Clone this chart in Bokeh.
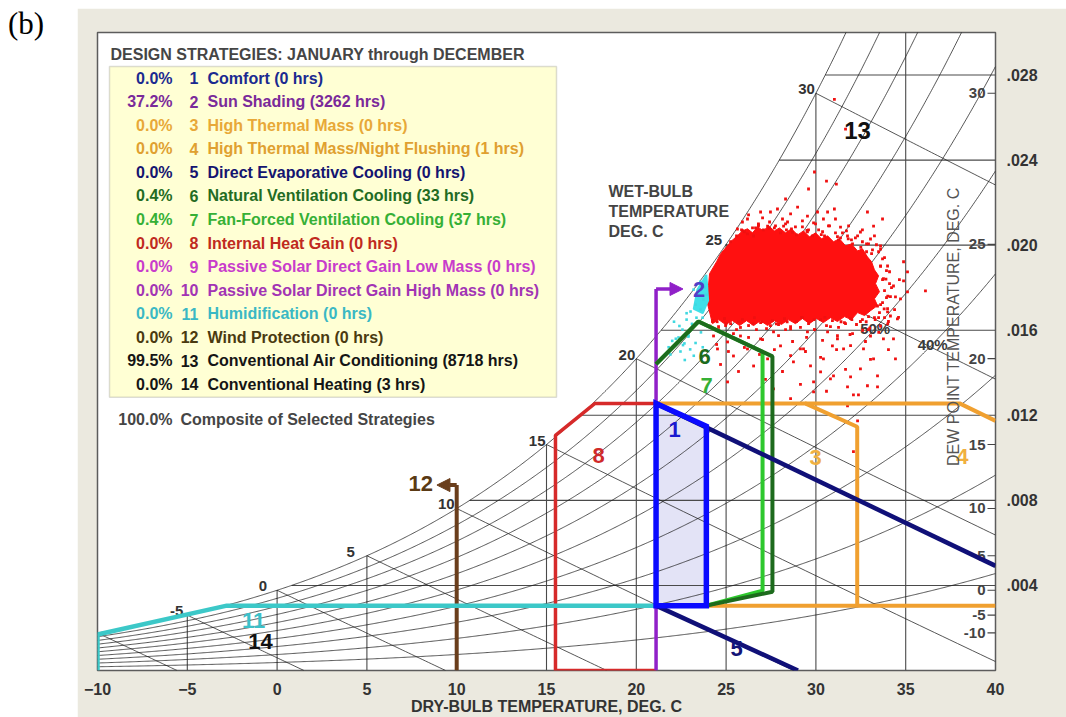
import numpy as np
from bokeh.plotting import figure
from bokeh.models import (Range1d, FixedTicker, Label, Arrow, NormalHead,
                          BoxAnnotation, Div, Spacer, ColumnDataSource)
from bokeh.layouts import row, column
from bokeh.embed import file_html
from bokeh.resources import INLINE
from bokeh.core.properties import value

FONT = "Liberation Sans"
P_ATM = 101.325  # kPa, sea level

# ---------------- chart scales ----------------
T_LO, T_HI = -10.0, 40.0          # dry-bulb, deg C
W_LO, W_HI = 0.0, 0.030           # humidity ratio, kg/kg
db_ticks = [-10, -5, 0, 5, 10, 15, 20, 25, 30, 35, 40]
w_ticks = [0.004, 0.008, 0.012, 0.016, 0.020, 0.024, 0.028]
w_tick_text = [".004", ".008", ".012", ".016", ".020", ".024", ".028"]
dew_ticks = [-10, -5, 0, 5, 10, 15, 20, 25, 30]
wb_lines = [-10, -5, 0, 5, 10, 15, 20, 25, 30]
wb_label_values = [-5, 0, 5, 10, 15, 20, 25, 30]
wb_label_dx = [-4, -10, -12, -2, -1, -1, -4, -1]
rh_curves = [0.1, 0.2, 0.3, 0.4, 0.5, 0.6, 0.7, 0.8, 0.9, 1.0]
rh_label_rh = [0.5, 0.4]
rh_label_T = [33.3, 36.5]
rh_label_text = ["50%", "40%"]

# ---------------- design strategy summary ----------------
strategy_pct = [0.0, 37.2, 0.0, 0.0, 0.0, 0.4, 0.4, 0.0, 0.0, 0.0, 0.0, 0.0, 99.5, 0.0]
strategy_names = ["Comfort", "Sun Shading", "High Thermal Mass",
                  "High Thermal Mass/Night Flushing", "Direct Evaporative Cooling",
                  "Natural Ventilation Cooling", "Fan-Forced Ventilation Cooling",
                  "Internal Heat Gain", "Passive Solar Direct Gain Low Mass",
                  "Passive Solar Direct Gain High Mass", "Humidification",
                  "Wind Protection", "Conventional Air Conditioning",
                  "Conventional Heating"]
strategy_hours = [0, 3262, 0, 1, 0, 33, 37, 0, 0, 0, 0, 0, 8718, 3]
strategy_colors = ["#1a2a90", "#7a2a9a", "#e8a838", "#e0a030", "#141470",
                   "#236b23", "#36b036", "#c02a20", "#c83ccb", "#a234b4",
                   "#3ab8c4", "#4a3a10", "#151515", "#151515"]
composite_pct = 100.0

# ---------------- strategy zones (T deg C, W kg/kg) ----------------
comfort_T = [21.1, 23.9, 23.9, 21.1]
comfort_W = [0.01256, 0.01148, 0.00305, 0.00305]
sun_T = [21.1, 21.1]
sun_W = [0.0, 0.01794]
sun_arrow_T = 22.6
thermal_T = [21.1, 29.4, 32.3, 32.3, 23.9]
thermal_W = [0.01256, 0.01256, 0.01146, 0.00305, 0.00305]
flush_top_T = [29.4, 38.0, 40.0]
flush_top_W = [0.01256, 0.01256, 0.01174]
flush_bot_T = [32.3, 40.0]
flush_bot_W = [0.00305, 0.00305]
evap_up_T = [21.1, 40.0]
evap_up_W = [0.01256, 0.00492]
evap_lo_T = [21.1, 29.0]
evap_lo_W = [0.00305, 0.0]
natvent_T = [21.1, 23.46, 27.58, 27.58, 23.9]
natvent_W = [0.01441, 0.01641, 0.01477, 0.00370, 0.00305]
fan_T = [21.1, 23.46, 27.03, 27.03, 23.9]
fan_W = [0.01441, 0.01641, 0.01499, 0.00375, 0.00305]
internal_T = [21.1, 15.5, 15.5, 17.7, 21.1]
internal_W = [0.0, 0.0, 0.01106, 0.01256, 0.01256]
humid_T = [-10.0, -10.0, -2.8, 21.1]
humid_W = [0.0, 0.00169, 0.00305, 0.00305]
wind_T = [10.0, 10.0]
wind_W = [0.0, 0.00872]
wind_arrow_T = 8.9

zone_text = ["1", "2", "3", "4", "5", "6", "7", "8", "11", "12", "13", "14"]
zone_text_T = [22.13, 23.5, 29.98, 38.16, 25.58, 23.8, 23.91, 17.9, -1.31, 8.0, 32.32, -0.92]
zone_text_W = [0.01134, 0.01791, 0.01003, 0.01008, 0.00103, 0.01477, 0.01341, 0.01013,
               0.00234, 0.00877, 0.02541, 0.00136]
zone_text_color = ["#1a1ad0", "#5040c8", "#f0b040", "#f0b040", "#141478", "#1d6b1d",
                   "#36b036", "#d02a2a", "#3cc0c8", "#5a3a14", "#111111", "#111111"]

# ---------------- hourly climate points (T deg C, W g/kg) ----------------
# outline of the densest part of the hourly cloud
core_T = [23.91, 24.02, 24.08, 24.47, 24.69, 25.02, 25.30, 25.63, 25.91, 26.19, 26.47,
          26.75, 27.08, 27.36, 27.69, 27.97, 28.31, 28.64, 28.98, 29.31, 29.64, 29.98,
          30.31, 30.65, 30.98, 31.31, 31.65, 31.98, 32.32, 32.59, 32.87, 33.10, 33.26,
          33.49, 33.32, 33.54, 33.26, 33.43, 33.04, 32.71, 32.32, 31.98, 31.59, 31.20,
          30.81, 30.42, 30.03, 29.64, 29.25, 28.86, 28.47, 28.08, 27.69, 27.31, 26.92,
          26.53, 26.14, 25.75, 25.36, 24.97, 24.58, 24.24]
core_Wg = [17.44, 18.09, 18.66, 19.22, 19.59, 19.92, 20.20, 20.44, 20.67, 20.77, 20.58,
           20.86, 20.67, 20.91, 20.67, 20.81, 20.58, 20.77, 20.48, 20.67, 20.39, 20.58,
           20.30, 20.44, 20.16, 20.30, 19.97, 20.06, 19.73, 19.83, 19.45, 19.22, 18.84,
           18.56, 18.19, 17.81, 17.48, 17.16, 16.92, 16.69, 16.83, 16.50, 16.64, 16.41,
           16.59, 16.36, 16.55, 16.31, 16.55, 16.31, 16.50, 16.27, 16.45, 16.22, 16.45,
           16.22, 16.45, 16.22, 16.45, 16.27, 16.50, 16.31]
# scattered hours around the core
hour_T = [26.92, 27.86, 28.98, 29.53, 30.09, 30.42, 28.42, 27.31, 31.37, 31.76, 32.48,
          33.04, 33.60, 33.99, 34.32, 34.71, 35.10, 33.21, 31.03, 31.03, 29.92, 30.59,
          31.14, 29.59, 28.31, 31.65, 32.87, 33.71, 30.65, 25.63, 26.19, 26.53,
          36.10, 35.10, 34.88, 34.43, 34.15, 34.43, 33.43, 33.43, 31.93, 31.76, 32.37,
          32.09, 32.09, 30.42, 30.92, 29.31, 29.70, 28.75, 32.65, 33.04, 33.76, 34.32,
          33.60, 33.99, 33.43, 34.54, 30.26, 30.81, 32.48, 29.87, 32.32,
          24.30, 25.08, 25.41, 26.19, 26.92, 27.31, 28.03, 29.14, 30.98, 31.54, 32.87,
          33.21, 25.80, 27.64, 28.59, 29.53, 30.65, 24.52, 26.53, 25.08, 27.64, 28.59,
          29.87, 31.76,
          25.9, 26.8, 27.4, 28.2, 28.7, 29.5, 30.3, 31.2, 31.8, 32.5, 33.1, 33.6, 33.9,
          34.0, 33.8, 33.3, 32.8, 32.0, 31.4, 30.5, 29.9, 29.2, 28.4, 27.8, 27.0, 26.5,
          25.7, 25.0, 24.5, 24.1, 32.6, 33.0, 33.5, 34.0, 34.6, 31.9, 31.2,
          25.91, 26.25, 26.64, 27.03, 27.47, 27.75, 28.14, 28.59, 28.86, 29.25, 29.59,
          29.98, 30.37, 30.70, 31.09, 31.48, 31.82, 32.20, 32.59, 32.93, 33.26, 33.60,
          26.02, 26.80, 28.36, 29.81, 31.26, 32.04, 32.82,
          33.82, 34.10, 33.71, 34.21, 33.93, 33.60, 34.38, 33.49, 34.04, 34.65, 34.88,
          24.24, 24.58, 24.97, 25.41, 25.80, 26.25, 26.69, 27.03, 27.47, 27.92, 28.31,
          28.70, 29.14, 29.48, 29.92, 30.37, 30.81, 31.20, 31.65, 32.04, 32.48, 32.93,
          33.26, 24.47, 25.13, 26.02, 26.86, 27.69, 28.59, 29.42, 30.26, 31.15, 31.93,
          32.76, 24.69, 25.69, 27.19, 28.14, 29.14, 30.59, 31.65, 33.04, 34.04,
          25.25, 25.58, 25.86, 26.19, 26.47, 26.80, 27.08, 27.42, 27.69, 28.03, 28.31,
          28.64, 28.92, 29.25, 29.53, 29.87, 30.15, 30.48, 30.76, 31.09, 31.37, 31.70,
          31.98, 32.32, 32.59, 32.82, 33.15, 33.37,
          33.49, 33.71, 33.60, 33.93, 33.76, 34.10, 33.82, 34.15, 33.71, 33.99, 33.54,
          33.82,
          24.24, 24.58, 24.91, 25.25, 25.58, 25.91, 26.25, 26.58, 26.92, 27.25, 27.58,
          27.92, 28.25, 28.59, 28.92, 29.25, 29.59, 29.92, 30.26, 30.59, 30.92, 31.26,
          31.59, 31.93, 32.26, 32.59, 32.93]
hour_Wg = [21.56, 21.70, 21.79, 21.37, 21.56, 21.23, 21.09, 20.90, 20.85, 20.43, 20.62,
           20.29, 19.82, 19.02, 18.08, 17.47, 17.80, 20.90, 21.70, 26.86, 23.44, 23.01,
           22.87, 22.64, 22.17, 25.46, 21.56, 21.23, 21.56, 20.76, 21.23, 20.43,
           17.85, 18.74, 18.32, 17.57, 16.67, 14.65, 13.85, 13.34, 13.81, 13.34, 12.96,
           12.96, 10.29, 14.65, 15.26, 15.12, 14.32, 14.51, 15.12, 15.73, 15.59, 15.59,
           16.20, 16.86, 17.14, 16.53, 14.04, 13.71, 14.18, 13.57, 11.74,
           15.73, 15.45, 14.79, 15.12, 15.59, 14.65, 15.26, 15.12, 13.85, 15.12, 13.39,
           14.65, 15.73, 15.92, 16.06, 15.92, 15.92, 15.12, 14.32, 13.57, 13.24, 12.78,
           13.10, 12.45,
           20.7, 20.9, 20.8, 20.9, 20.6, 20.7, 20.5, 20.4, 20.3, 19.9, 19.6, 19.0, 18.4,
           17.6, 17.0, 16.5, 16.4, 16.5, 16.4, 16.6, 16.5, 16.6, 16.4, 16.3, 16.4, 16.3,
           16.4, 16.3, 16.4, 16.2, 16.0, 16.1, 15.9, 16.3, 16.6, 15.8, 15.6,
           21.09, 21.42, 20.81, 21.28, 21.56, 20.91, 21.23, 21.47, 20.86, 21.14, 20.72,
           21.00, 20.63, 20.91, 21.23, 20.58, 20.91, 20.34, 20.72, 20.06, 20.44, 19.97,
           20.63, 21.00, 20.72, 20.44, 20.25, 20.06, 19.69,
           19.41, 18.75, 18.38, 18.00, 17.53, 17.20, 16.97, 16.59, 16.41, 18.38, 19.22,
           16.41, 16.03, 16.22, 15.84, 16.13, 15.66, 16.03, 15.56, 16.22, 15.75, 16.03,
           15.47, 16.13, 15.66, 16.03, 15.52, 16.17, 15.75, 16.31, 15.84, 16.41, 16.03,
           16.59, 15.33, 15.00, 15.19, 14.86, 15.09, 14.81, 15.00, 14.72, 15.09, 15.28,
           15.47, 14.39, 14.06, 13.69, 14.06, 13.45, 13.13, 14.16, 14.63, 15.09,
           20.16, 20.44, 20.72, 20.53, 20.81, 20.95, 20.72, 21.09, 20.81, 20.58, 21.00,
           20.77, 20.48, 20.86, 20.63, 21.05, 20.72, 20.44, 20.91, 20.58, 20.34, 20.67,
           20.25, 20.44, 20.16, 20.06, 19.78, 20.02,
           19.69, 19.36, 19.03, 18.80, 18.42, 18.19, 17.86, 17.58, 17.30, 17.02, 16.83,
           16.59,
           16.45, 16.17, 16.55, 16.31, 16.03, 16.50, 16.22, 16.59, 16.36, 16.08, 16.45,
           16.27, 16.55, 16.17, 16.41, 16.59, 16.31, 16.03, 16.50, 16.22, 16.45, 16.13,
           16.36, 16.55, 16.27, 16.50, 16.64]
# hours handled by sun shading alone
shade_core_T = [23.9, 24.0, 23.7, 23.2, 23.4]
shade_core_Wg = [18.6, 17.4, 16.8, 17.0, 17.9]
shade_T = [22.4, 22.2, 22.6, 23.0, 22.9, 23.3, 23.6, 22.1, 23.5, 22.0, 21.8, 23.2, 22.7,
           23.7, 23.1, 22.8, 23.57, 23.80, 23.46, 23.74, 23.30, 23.57, 23.02, 23.35,
           22.80, 23.13, 22.57, 22.91, 22.35, 22.68, 22.13, 22.46, 21.90, 23.91, 23.69,
           23.19]
shade_Wg = [16.2, 15.6, 15.3, 15.1, 15.7, 15.4, 15.9, 16.4, 16.4, 15.5, 15.2, 14.8, 14.6,
            15.2, 16.3, 16.8, 18.28, 18.00, 17.67, 17.44, 17.20, 16.97, 16.88, 16.59,
            16.50, 16.22, 16.03, 15.75, 15.66, 15.38, 15.28, 15.00, 14.86, 17.67, 16.59,
            17.91]


# ---------------- psychrometrics ----------------
def p_sat(t):
    t = np.asarray(t, dtype=float)
    return 0.61094 * np.exp(17.625 * t / (t + 243.04))


def hum_ratio(t, rh):
    pv = rh * p_sat(t)
    return 0.622 * pv / (P_ATM - pv)


def wet_bulb_W(twb, t):
    ws = hum_ratio(twb, 1.0)
    return ((2501 - 2.326 * twb) * ws - 1.006 * (t - twb)) / (2501 + 1.86 * t - 4.186 * twb)


# ---------------- page geometry ----------------
PANEL_X, PANEL_Y = 77, 8
FIG_W, FIG_H = 1066 - PANEL_X, 717 - PANEL_Y
B_LEFT, B_RIGHT, B_TOP, B_BOTTOM = 20, 71, 24, 45
FRAME_W = FIG_W - B_LEFT - B_RIGHT
FRAME_H = FIG_H - B_TOP - B_BOTTOM
FX0, FY0 = PANEL_X + B_LEFT, PANEL_Y + B_TOP


def px_T(px):
    return T_LO + (px - FX0) * (T_HI - T_LO) / FRAME_W


def py_W(py):
    return W_HI - (py - FY0) * (W_HI - W_LO) / FRAME_H


BEIGE = "#ebe9df"

p = figure(width=FIG_W, height=FIG_H, x_range=Range1d(T_LO, T_HI),
           y_range=Range1d(W_LO, W_HI), y_axis_location="right",
           toolbar_location=None, output_backend="svg",
           min_border_left=B_LEFT, min_border_right=B_RIGHT,
           min_border_top=B_TOP, min_border_bottom=B_BOTTOM, margin=0)
p.grid.visible = False
p.background_fill_color = "white"
p.border_fill_color = BEIGE
p.outline_line_color = "#5c5c5c"
p.outline_line_width = 1.5

# axes
ax = p.xaxis[0]
ax.ticker = FixedTicker(ticks=db_ticks)
ax.major_label_text_font = FONT
ax.major_label_text_font_size = "16px"
ax.major_label_text_font_style = "bold"
ax.major_label_text_color = "#333333"
ax.major_label_standoff = 6
ax.major_tick_line_color = None
ax.minor_tick_line_color = None
ax.axis_line_color = None
ax.axis_label = "DRY-BULB TEMPERATURE, DEG. C"
ax.axis_label_text_font = FONT
ax.axis_label_text_font_size = "16px"
ax.axis_label_text_font_style = "bold"
ax.axis_label_text_color = "#333333"
ax.axis_label_standoff = 0

ay = p.yaxis[0]
ay.ticker = FixedTicker(ticks=w_ticks)
ay.major_label_overrides = {w: s for w, s in zip(w_ticks, w_tick_text)}
ay.major_label_text_font = FONT
ay.major_label_text_font_size = "16px"
ay.major_label_text_font_style = "bold"
ay.major_label_text_color = "#333333"
ay.major_label_standoff = 5
ay.major_tick_line_color = None
ay.minor_tick_line_color = None
ay.axis_line_color = None

# comfort zone shading sits under the chart lines
p.patch(comfort_T, comfort_W, fill_color="#e3e3f6", line_color=None)

# ---------------- psychrometric grid ----------------
sat_t = np.linspace(T_LO, T_HI, 801)
sat_w = hum_ratio(sat_t, 1.0)

vx, vy = [], []
for t in db_ticks[1:-1]:
    vx.append([t, t])
    vy.append([0.0, float(min(hum_ratio(t, 1.0), W_HI + 0.001))])
p.multi_line(vx, vy, line_color="#4a4a4a", line_width=1.1)

hx, hy = [], []
for w in w_ticks:
    t0 = float(np.interp(w, sat_w, sat_t))
    hx.append([t0, T_HI])
    hy.append([w, w])
p.multi_line(hx, hy, line_color="#4a4a4a", line_width=1.1)

p.multi_line([list(sat_t)] * len(rh_curves),
             [list(hum_ratio(sat_t, rh)) for rh in rh_curves],
             line_color="#1e1e1e", line_width=0.75)

wx, wy = [], []
for twb in wb_lines:
    ws = float(hum_ratio(twb, 1.0))
    t_end = min(T_HI, twb + (2501 - 2.326 * twb) * ws / 1.006)
    tt = np.linspace(twb, t_end, 60)
    ww = np.clip(wet_bulb_W(twb, tt), 0.0, None)
    wx.append(list(tt))
    wy.append(list(ww))
p.multi_line(wx, wy, line_color="#1e1e1e", line_width=0.75)

wb_src = ColumnDataSource(dict(x=wb_label_values,
                               y=list(hum_ratio(np.array(wb_label_values, float), 1.0)),
                               text=[str(v) for v in wb_label_values], dx=wb_label_dx))
p.text(x="x", y="y", text="text", x_offset="dx", y_offset=1, source=wb_src,
       text_align="right", text_baseline="bottom", text_font=value(FONT),
       text_font_size="15px", text_font_style="bold", text_color="#333333")

# dew point scale along the right edge
dew_w = list(hum_ratio(np.array(dew_ticks, float), 1.0))
p.segment(x0=[px_T(987)] * len(dew_ticks), x1=[T_HI] * len(dew_ticks), y0=dew_w, y1=dew_w,
          line_color="#444444", line_width=1.2)
p.text(x=[px_T(985)] * len(dew_ticks), y=dew_w, text=[str(d) for d in dew_ticks],
       text_align="right", text_baseline="middle", text_font=value(FONT),
       text_font_size="15px", text_font_style="bold", text_color="#444444")

# relative humidity curve labels
rh_w = [float(hum_ratio(t, rh)) for t, rh in zip(rh_label_T, rh_label_rh)]
p.text(x=rh_label_T, y=rh_w, text=rh_label_text, text_align="center",
       text_baseline="middle", text_font=value(FONT), text_font_size="15px",
       text_font_style="bold", text_color="#3a3a3a")

# ---------------- hourly points ----------------
p.patch(core_T, [w / 1000 for w in core_Wg], fill_color="#ff1010", line_color="#ff1010",
        line_width=1)
p.scatter(hour_T, [w / 1000 for w in hour_Wg], marker="square", size=2.8,
          fill_color="#f01010", line_color=None)
p.patch(shade_core_T, [w / 1000 for w in shade_core_Wg], fill_color="#40e0e8",
        line_color="#40e0e8", line_width=2)
p.scatter(shade_T, [w / 1000 for w in shade_Wg], marker="square", size=2.6,
          fill_color="#40d8e0", line_color=None)

# ---------------- strategy zones ----------------
p.line(wind_T, wind_W, line_color="#6a3e1c", line_width=4)
p.add_layout(Arrow(end=NormalHead(size=13, fill_color="#6a3e1c", line_color="#6a3e1c"),
                   x_start=wind_T[-1], y_start=wind_W[-1], x_end=wind_arrow_T,
                   y_end=wind_W[-1], line_color="#6a3e1c", line_width=4))
p.line(internal_T, internal_W, line_color="#d62a2a", line_width=3.5)
p.line(sun_T, sun_W, line_color="#9020c8", line_width=3.5)
p.add_layout(Arrow(end=NormalHead(size=13, fill_color="#9020c8", line_color="#9020c8"),
                   x_start=sun_T[-1], y_start=sun_W[-1], x_end=sun_arrow_T,
                   y_end=sun_W[-1], line_color="#9020c8", line_width=3.5))
p.line(humid_T, humid_W, line_color="#3cc8c8", line_width=4.5)
p.line(thermal_T, thermal_W, line_color="#f0a030", line_width=4)
p.line(flush_top_T, flush_top_W, line_color="#f0a030", line_width=4)
p.line(flush_bot_T, flush_bot_W, line_color="#f0a030", line_width=4)
p.line(fan_T, fan_W, line_color="#2ec82e", line_width=4)
p.line(natvent_T, natvent_W, line_color="#1d6b1d", line_width=4)
p.line(evap_up_T, evap_up_W, line_color="#101078", line_width=4.5)
p.line(evap_lo_T, evap_lo_W, line_color="#101078", line_width=4.5)
p.patch(comfort_T, comfort_W, fill_color=None, line_color="#0a0aff", line_width=5.5,
        line_join="miter")

zsizes = ["24px" if t == "13" else "22px" for t in zone_text]
p.text(x=zone_text_T, y=zone_text_W, text=zone_text, text_color=zone_text_color,
       text_font_size=zsizes, text_align="center", text_baseline="middle",
       text_font=value(FONT), text_font_style="bold")


# ---------------- annotations ----------------
def add_label(px, py, text, color="#444444", size="16px", style="bold",
              align="left", baseline="middle", angle=0.0):
    p.add_layout(Label(x=px_T(px), y=py_W(py), text=text, text_color=color,
                       text_font=FONT, text_font_size=size, text_font_style=style,
                       text_align=align, text_baseline=baseline, angle=angle))


add_label(640, 21, "RELATIVE HUMIDITY", color="#222222")
add_label(840, 21, "100%", color="#222222")
add_label(908, 21, "80%", color="#222222")

add_label(608, 191, "WET-BULB")
add_label(608, 212, "TEMPERATURE")
add_label(608, 232, "DEG. C")

add_label(953, 327, "DEW POINT TEMPERATURE, DEG. C", color="#555555", size="16px",
          style="normal", align="center", angle=np.pi / 2)
add_label(1053, 357, "HUMIDITY RATIO", color="#333333", size="15px", style="normal",
          align="center", angle=np.pi / 2)

# strategy summary box
add_label(110, 54, "DESIGN STRATEGIES:  JANUARY through DECEMBER", color="#454545")
p.add_layout(BoxAnnotation(left=px_T(109), right=px_T(556), top=py_W(66), bottom=py_W(398),
                           fill_color="#ffffd4", fill_alpha=1.0, line_color="#8a8a8a",
                           line_width=1.5))
for i, (pct, name, hrs, col) in enumerate(zip(strategy_pct, strategy_names,
                                              strategy_hours, strategy_colors)):
    y = 78 + i * 23.6
    add_label(172, y, f"{pct:.1f}%", color=col, align="right")
    add_label(198, y, str(i + 1), color=col, align="right")
    add_label(207, y, f"{name} ({hrs} hrs)", color=col)
add_label(172, 420, f"{composite_pct:.1f}%", color="#454545", align="right")
add_label(180, 420, "Composite of Selected Strategies", color="#454545")

tag = Div(text='<div style="font-family:\'Liberation Serif\',serif;font-size:31px;'
               'line-height:1;padding:8px 0 0 8px;margin:0;color:#000">(b)</div>',
          width=PANEL_X, height=717, margin=0, styles={"background-color": "white"})
layout = row(tag, column(Spacer(width=FIG_W, height=PANEL_Y, margin=0), p,
                         spacing=0, margin=0), spacing=0, margin=0)

open("out.html", "w").write(file_html(layout, INLINE))
